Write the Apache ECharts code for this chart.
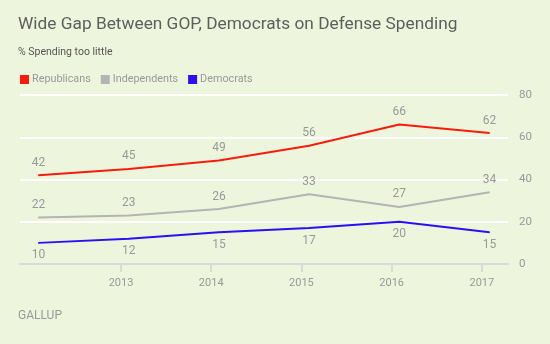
<!DOCTYPE html>
<html><head><meta charset="utf-8">
<script src="https://cdn.jsdelivr.net/npm/echarts@6/dist/echarts.min.js"></script>
<style>html,body{margin:0;padding:0;background:#eef5dd}#c{width:550px;height:344px}</style>
</head><body><div id="c"></div>
<script>
const dates = ['2012-02-01','2013-02-01','2014-02-01','2015-02-01','2016-02-01','2017-02-01'];
const republicans = [42,45,49,56,66,62];
const independents = [22,23,26,33,27,34];
const democrats = [10,12,15,17,20,15];
const yearTicks = [2013,2014,2015,2016,2017];

// convert a date string to a fractional year
function fracYear(s) {
  const d = new Date(s + 'T00:00:00');
  const y = d.getFullYear();
  const start = new Date(y, 0, 1).getTime(), end = new Date(y + 1, 0, 1).getTime();
  return y + (d.getTime() - start) / (end - start);
}
const toPairs = vals => vals.map((v,i) => [fracYear(dates[i]), v]);
const font = 'Roboto, "Open Sans", sans-serif';
const chart = echarts.init(document.getElementById('c'));
function mk(name, vals, color, pos) {
  return {
    name, type: 'line', data: toPairs(vals), symbol: 'circle', symbolSize: 1, showSymbol: true,
    lineStyle: {color, width: 2}, itemStyle: {color},
    label: {show: true, position: pos, distance: 6, color: '#999', fontSize: 12, fontFamily: font},
    labelLayout: {hideOverlap: false},
    emphasis: {disabled: true}, animation: false
  };
}
chart.setOption({
  backgroundColor: '#eef5dd',
  animation: false,
  title: [
    {text: 'Wide Gap Between GOP, Democrats on Defense Spending', left: 18, top: 16, padding: 0,
     textStyle: {fontSize: 17.3, fontWeight: 'normal', color: '#5e5e5e', fontFamily: font}},
    {text: '% Spending too little', left: 18, top: 47, padding: 0,
     textStyle: {fontSize: 10.5, fontWeight: 'normal', color: '#555', fontFamily: font}},
    {text: 'GALLUP', left: 18, top: 310, padding: 0,
     textStyle: {fontSize: 12, fontWeight: 'normal', color: '#999', fontFamily: font}}
  ],
  legend: {
    left: 15, top: 69, icon: 'rect', itemWidth: 9, itemHeight: 9, itemGap: 10,
    textStyle: {color: '#999', fontSize: 10.8, fontFamily: font, padding: [0, 0, 0, -2]},
    data: ['Republicans','Independents','Democrats']
  },
  grid: {left: 20, right: 42, top: 95, bottom: 80, containLabel: false},
  xAxis: {
    type: 'value', min: 2011.88, max: 2017.29,
    axisLine: {show: true, lineStyle: {color: '#d8dbd9', width: 2}},
    axisTick: {show: true, length: 8, lineStyle: {color: '#d8dbd9', width: 2}, customValues: yearTicks},
    axisLabel: {color: '#999', fontSize: 11, fontFamily: font, margin: 14,
      customValues: yearTicks, formatter: v => String(v)},
    splitLine: {show: false}
  },
  yAxis: {
    type: 'value', position: 'right', min: 0, max: 80, interval: 20,
    axisLine: {show: false}, axisTick: {show: false},
    axisLabel: {color: '#999', fontSize: 11.5, fontFamily: font, margin: 11},
    splitLine: {show: true, lineStyle: {color: '#ffffff', width: 2}}
  },
  series: [
    mk('Republicans', republicans, '#f71c0c', 'top'),
    mk('Independents', independents, '#b4b4b4', 'top'),
    mk('Democrats', democrats, '#2c0ff5', 'bottom')
  ]
});
</script></body></html>
